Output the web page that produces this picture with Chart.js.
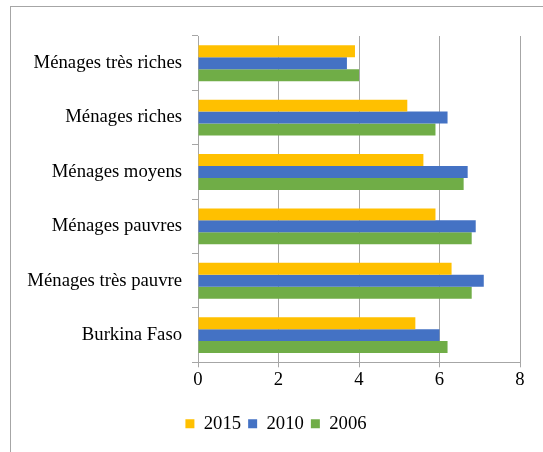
<!DOCTYPE html>
<html>
<head>
<meta charset="utf-8">
<script src="https://cdn.jsdelivr.net/npm/chart.js@4"></script>
<style>
  html, body { margin: 0; padding: 0; background: #fff; overflow: hidden; }
  #wrap { position: relative; width: 543px; height: 452px; }
  #frame { position: absolute; left: 10px; top: 6px; width: 600px; height: 500px; border: 1px solid #a6a6a6; }
  #myChart { position: absolute; left: 0; top: 0; }
</style>
</head>
<body>
<div id="wrap">
  <div id="frame"></div>
  <canvas id="myChart" width="543" height="452"></canvas>
</div>
<script>
// data
const categories = ['Ménages très riches', 'Ménages riches', 'Ménages moyens', 'Ménages pauvres', 'Ménages très pauvre', 'Burkina Faso'];
const values2015 = [3.9, 5.2, 5.6, 5.9, 6.3, 5.4];
const values2010 = [3.7, 6.2, 6.7, 6.9, 7.1, 6.0];
const values2006 = [4.0, 5.9, 6.6, 6.8, 6.8, 6.2];
const xTicks = [0, 2, 4, 6, 8];

const gridColor = '#a6a6a6';
const font = { family: "'Liberation Serif', 'Times New Roman', serif", size: 18.7 };

// move the legend a bit to the right, like in the original
const legendShift = {
  id: 'legendShift',
  afterLayout: (chart) => {
    if (chart.legend) {
      chart.legend.left += 16;
      chart.legend.right += 16;
    }
  }
};

const config = {
  type: 'bar',
  data: {
    labels: categories,
    datasets: [
      { label: '2015', data: values2015, backgroundColor: '#FFC000' },
      { label: '2010', data: values2010, backgroundColor: '#4472C4' },
      { label: '2006', data: values2006, backgroundColor: '#70AD47' },
    ]
  },
  options: {
    indexAxis: 'y',
    responsive: false,
    animation: false,
    devicePixelRatio: 1,
    categoryPercentage: 0.66,
    barPercentage: 1,
    layout: { padding: { top: 36, right: 23, left: 0, bottom: 9 } },
    plugins: {
      legend: {
        position: 'bottom',
        labels: { boxWidth: 9, boxHeight: 9, padding: 7, color: '#000', font: font }
      },
      tooltip: { enabled: false }
    },
    scales: {
      x: {
        min: xTicks[0],
        max: xTicks[xTicks.length - 1],
        ticks: { stepSize: 2, color: '#000', font: font, padding: 2 },
        grid: { color: gridColor, tickLength: 5 },
        border: { color: gridColor },
        afterFit: (scale) => { scale.height = 45; }
      },
      y: {
        ticks: { color: '#000', font: font, padding: 10 },
        grid: { color: gridColor, drawOnChartArea: false, tickLength: 6, offset: true },
        border: { color: gridColor },
        afterFit: (scale) => { scale.width = 198; }
      }
    }
  },
  plugins: [legendShift]
};

new Chart(document.getElementById('myChart').getContext('2d'), config);
</script>
</body>
</html>
